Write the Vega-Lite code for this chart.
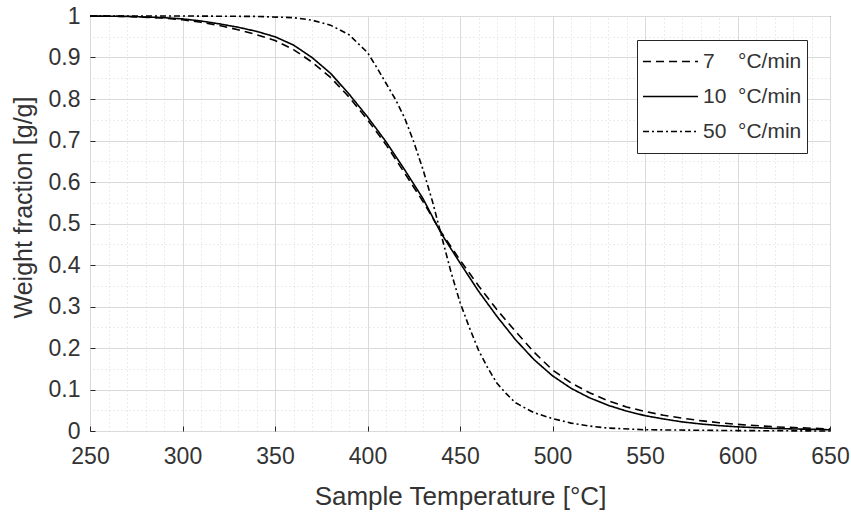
{
  "$schema": "https://vega.github.io/schema/vega-lite/v6.json",
  "width": 740,
  "height": 415,
  "autosize": "none",
  "padding": {"left": 90, "top": 16, "right": 21, "bottom": 85},
  "background": "white",
  "config": {
    "font": "Liberation Sans",
    "view": {"stroke": "#262626", "strokeWidth": 1},
    "axis": {"labelColor": "#333333", "titleColor": "#333333", "labelFontSize": 23, "titleFontSize": 26, "titleFontWeight": "normal", "domain": false, "labelFlush": false, "labelOverlap": false}
  },
  "data": {"values": [
    {"T":250,"w":1.0,"rate":"7"},{"T":270,"w":0.999,"rate":"7"},{"T":290,"w":0.995,"rate":"7"},{"T":300,"w":0.991,"rate":"7"},{"T":310,"w":0.985,"rate":"7"},{"T":320,"w":0.977,"rate":"7"},{"T":330,"w":0.967,"rate":"7"},{"T":340,"w":0.955,"rate":"7"},{"T":350,"w":0.941,"rate":"7"},{"T":360,"w":0.919,"rate":"7"},{"T":370,"w":0.889,"rate":"7"},{"T":380,"w":0.852,"rate":"7"},{"T":390,"w":0.805,"rate":"7"},{"T":400,"w":0.75,"rate":"7"},{"T":410,"w":0.69,"rate":"7"},{"T":420,"w":0.622,"rate":"7"},{"T":430,"w":0.553,"rate":"7"},{"T":437,"w":0.5,"rate":"7"},{"T":440,"w":0.478,"rate":"7"},{"T":450,"w":0.412,"rate":"7"},{"T":460,"w":0.35,"rate":"7"},{"T":470,"w":0.292,"rate":"7"},{"T":480,"w":0.24,"rate":"7"},{"T":490,"w":0.19,"rate":"7"},{"T":500,"w":0.147,"rate":"7"},{"T":510,"w":0.116,"rate":"7"},{"T":520,"w":0.092,"rate":"7"},{"T":530,"w":0.073,"rate":"7"},{"T":540,"w":0.058,"rate":"7"},{"T":550,"w":0.047,"rate":"7"},{"T":560,"w":0.038,"rate":"7"},{"T":570,"w":0.031,"rate":"7"},{"T":580,"w":0.025,"rate":"7"},{"T":590,"w":0.02,"rate":"7"},{"T":600,"w":0.016,"rate":"7"},{"T":620,"w":0.01,"rate":"7"},{"T":650,"w":0.005,"rate":"7"},
    {"T":250,"w":1.0,"rate":"10"},{"T":270,"w":0.999,"rate":"10"},{"T":290,"w":0.996,"rate":"10"},{"T":300,"w":0.993,"rate":"10"},{"T":310,"w":0.988,"rate":"10"},{"T":320,"w":0.981,"rate":"10"},{"T":330,"w":0.973,"rate":"10"},{"T":340,"w":0.963,"rate":"10"},{"T":350,"w":0.95,"rate":"10"},{"T":360,"w":0.93,"rate":"10"},{"T":370,"w":0.9,"rate":"10"},{"T":380,"w":0.862,"rate":"10"},{"T":390,"w":0.812,"rate":"10"},{"T":400,"w":0.757,"rate":"10"},{"T":410,"w":0.697,"rate":"10"},{"T":420,"w":0.63,"rate":"10"},{"T":430,"w":0.56,"rate":"10"},{"T":437,"w":0.5,"rate":"10"},{"T":440,"w":0.475,"rate":"10"},{"T":450,"w":0.405,"rate":"10"},{"T":460,"w":0.337,"rate":"10"},{"T":470,"w":0.276,"rate":"10"},{"T":480,"w":0.22,"rate":"10"},{"T":490,"w":0.172,"rate":"10"},{"T":500,"w":0.133,"rate":"10"},{"T":510,"w":0.103,"rate":"10"},{"T":520,"w":0.08,"rate":"10"},{"T":530,"w":0.062,"rate":"10"},{"T":540,"w":0.048,"rate":"10"},{"T":550,"w":0.037,"rate":"10"},{"T":560,"w":0.029,"rate":"10"},{"T":570,"w":0.022,"rate":"10"},{"T":580,"w":0.017,"rate":"10"},{"T":590,"w":0.013,"rate":"10"},{"T":600,"w":0.01,"rate":"10"},{"T":620,"w":0.006,"rate":"10"},{"T":650,"w":0.003,"rate":"10"},
    {"T":250,"w":1.0,"rate":"50"},{"T":300,"w":1.0,"rate":"50"},{"T":340,"w":0.999,"rate":"50"},{"T":360,"w":0.996,"rate":"50"},{"T":370,"w":0.99,"rate":"50"},{"T":380,"w":0.978,"rate":"50"},{"T":390,"w":0.955,"rate":"50"},{"T":400,"w":0.912,"rate":"50"},{"T":405,"w":0.876,"rate":"50"},{"T":410,"w":0.838,"rate":"50"},{"T":415,"w":0.8,"rate":"50"},{"T":420,"w":0.755,"rate":"50"},{"T":425,"w":0.697,"rate":"50"},{"T":430,"w":0.63,"rate":"50"},{"T":435,"w":0.555,"rate":"50"},{"T":440,"w":0.47,"rate":"50"},{"T":445,"w":0.385,"rate":"50"},{"T":450,"w":0.31,"rate":"50"},{"T":455,"w":0.25,"rate":"50"},{"T":460,"w":0.195,"rate":"50"},{"T":465,"w":0.152,"rate":"50"},{"T":470,"w":0.115,"rate":"50"},{"T":475,"w":0.09,"rate":"50"},{"T":480,"w":0.068,"rate":"50"},{"T":490,"w":0.044,"rate":"50"},{"T":500,"w":0.03,"rate":"50"},{"T":510,"w":0.019,"rate":"50"},{"T":520,"w":0.012,"rate":"50"},{"T":530,"w":0.007,"rate":"50"},{"T":550,"w":0.003,"rate":"50"},{"T":600,"w":0.001,"rate":"50"},{"T":650,"w":0.0,"rate":"50"}
  ]},
  "layer": [
    {
      "mark": {"type": "line", "opacity": 0},
      "encoding": {
        "x": {"field": "T", "type": "quantitative", "scale": {"domain": [250, 650], "nice": false, "zero": false},
          "axis": {"orient": "top", "title": null, "labels": false, "ticks": false, "grid": true, "gridColor": "#d8d8d8", "gridDash": [1, 3], "gridWidth": 1,
            "values": [260,270,280,290,310,320,330,340,360,370,380,390,410,420,430,440,460,470,480,490,510,520,530,540,560,570,580,590,610,620,630,640]}},
        "y": {"field": "w", "type": "quantitative", "scale": {"domain": [0, 1], "nice": false},
          "axis": {"orient": "right", "title": null, "labels": false, "ticks": false, "grid": true, "gridColor": "#d8d8d8", "gridDash": [1, 3], "gridWidth": 1,
            "values": [0.05,0.15,0.25,0.35,0.45,0.55,0.65,0.75,0.85,0.95]}},
        "detail": {"field": "rate"}
      }
    },
    {
      "mark": {"type": "line", "color": "black", "strokeWidth": 1.6},
      "encoding": {
        "x": {"field": "T", "type": "quantitative",
          "axis": {"orient": "bottom", "title": "Sample Temperature [°C]", "values": [250,300,350,400,450,500,550,600,650], "grid": true, "gridColor": "#dadada", "gridWidth": 1, "tickSize": -5, "tickColor": "#262626", "labelPadding": 19, "titlePadding": 15}},
        "y": {"field": "w", "type": "quantitative",
          "axis": {"orient": "left", "title": "Weight fraction [g/g]", "titleFontSize": 25, "titleY": 191, "format": ".1~f", "values": [0,0.1,0.2,0.3,0.4,0.5,0.6,0.7,0.8,0.9,1], "grid": true, "gridColor": "#dadada", "gridWidth": 1, "tickSize": -5, "tickColor": "#262626", "labelPadding": 15, "titlePadding": 12}},
        "strokeDash": {"field": "rate", "type": "nominal",
          "scale": {"domain": ["7", "10", "50"], "range": [[8, 5], [1, 0], [6, 3, 2, 3]]},
          "legend": {"title": null, "orient": "none", "legendX": 547, "legendY": 24, "fillColor": "white", "strokeColor": "#262626", "padding": 5,
            "symbolType": "stroke", "symbolSize": 3025, "symbolStrokeWidth": 1.6, "symbolStrokeColor": "black", "clipHeight": 33, "rowPadding": 2,
            "labelFontSize": 21, "labelColor": "#333333", "labelOffset": 4,
            "labelExpr": "datum.label == '7' ? '7\u00a0\u00a0\u00a0\u00a0°C/min' : datum.label + '\u00a0\u00a0°C/min'"}}
      }
    }
  ],
  "resolve": {"axis": {"x": "independent", "y": "independent"}}
}
